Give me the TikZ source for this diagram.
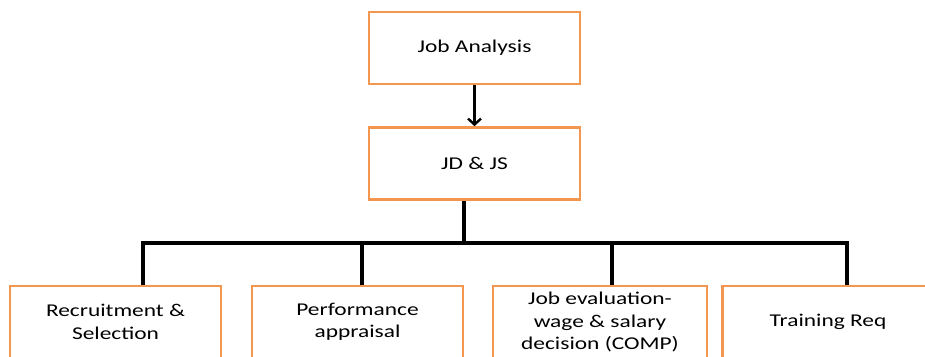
\documentclass[tikz,border=0pt]{standalone}
\usepackage{fontspec}
\setmainfont{Carlito}[FakeStretch=1.3]
\usetikzlibrary{arrows.meta}
\definecolor{boxorange}{RGB}{243,150,80}
\begin{document}
\begin{tikzpicture}[x=1pt,y=-1pt,
    box/.style={draw=boxorange, line width=2.6pt, minimum width=211pt, minimum height=72pt,
      align=center, inner sep=0pt, font=\fontsize{18}{22.5}\selectfont},
    conn/.style={line width=3.2pt, black}]
        \clip (0,0) rectangle (925,356);
        % Top of the chart
        \node[box] (ja) at (474.5,48) {Job Analysis};
        \node[box] (jd) at (474.5,163.5) {JD \& JS};
        \draw[conn, -{Straight Barb[length=6pt,width=13pt,line width=2.4pt]}] (ja) -- (jd);
        % Bottom row
        \node[box] (rs) at (115.5,322) {Recruitment \&\\Selection};
        \node[box] (pa) at (357.5,322) {Performance\\appraisal};
        \node[box, minimum width=214pt] (je) at (600,322) {Job evaluation-\\wage \& salary\\decision (COMP)};
        \node[box] (tr) at (828,322) {Training Req};
        % Bus line
        \coordinate (top) at (464,243);
        \coordinate (tapa) at (143,243);
        \coordinate (tapb) at (362,243);
        \coordinate (tapc) at (612,243);
        \coordinate (tapd) at (847,243);
        \draw[conn] (jd.south -| top) -- (top);
        \draw[conn, line cap=rect] (tapa) -- (tapd);
        \draw[conn] (tapa) -- (tapa |- rs.north);
        \draw[conn] (tapb) -- (tapb |- pa.north);
        \draw[conn] (tapc) -- (tapc |- je.north);
        \draw[conn] (tapd) -- (tapd |- tr.north);
\end{tikzpicture}
\end{document}
